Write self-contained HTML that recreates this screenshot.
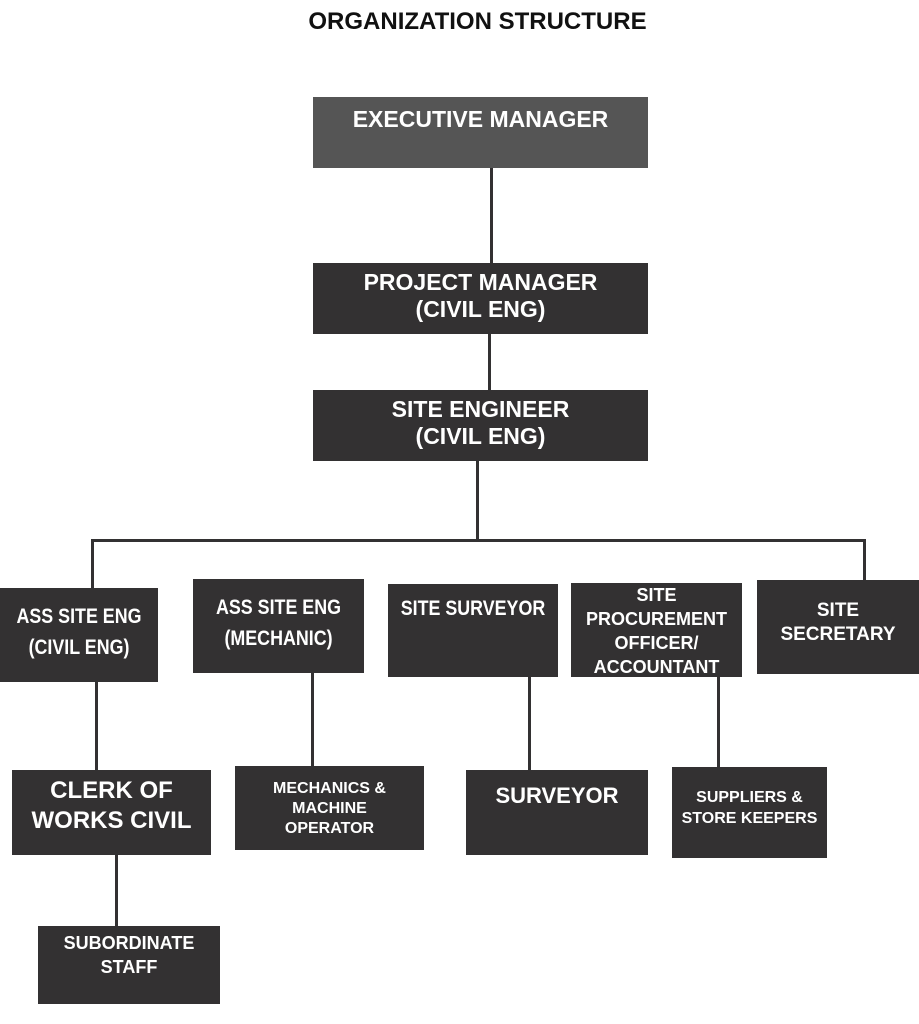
<!DOCTYPE html>
<html><head><meta charset="utf-8"><style>
body{margin:0;width:919px;height:1024px;background:#fff;position:relative;overflow:hidden;font-family:"Liberation Sans",Arial,sans-serif}
.b{position:absolute;background:#333132;color:#fff;font-weight:bold;text-align:center;box-sizing:border-box}
.l{position:absolute;background:#333132}
.t{position:absolute;left:0;right:0;white-space:nowrap}
.n{font-family:"Liberation Sans Narrow","Liberation Sans",sans-serif;transform:scaleX(.85)}
</style></head><body>
<div style="position:absolute;top:8px;left:0;width:955px;text-align:center;font-weight:bold;font-size:24px;color:#111">ORGANIZATION STRUCTURE</div>

<div class="l" style="left:490px;top:168px;width:3px;height:95px"></div>
<div class="l" style="left:488px;top:334px;width:3px;height:56px"></div>
<div class="l" style="left:476px;top:461px;width:3px;height:80px"></div>
<div class="l" style="left:91px;top:539px;width:775px;height:3px"></div>
<div class="l" style="left:91px;top:539px;width:3px;height:50px"></div>
<div class="l" style="left:863px;top:539px;width:3px;height:42px"></div>
<div class="l" style="left:95px;top:682px;width:3px;height:88px"></div>
<div class="l" style="left:311px;top:673px;width:3px;height:93px"></div>
<div class="l" style="left:528px;top:677px;width:3px;height:93px"></div>
<div class="l" style="left:717px;top:677px;width:3px;height:90px"></div>
<div class="l" style="left:115px;top:855px;width:3px;height:71px"></div>

<div class="b" style="left:313px;top:97px;width:335px;height:71px;background:#555"><div class="t" style="top:9px;font-size:23px">EXECUTIVE MANAGER</div></div>
<div class="b" style="left:313px;top:263px;width:335px;height:71px"><div class="t" style="top:6px;font-size:23px;line-height:27px">PROJECT MANAGER<br>(CIVIL ENG)</div></div>
<div class="b" style="left:313px;top:390px;width:335px;height:71px"><div class="t" style="top:6px;font-size:23px;line-height:27px">SITE ENGINEER<br>(CIVIL ENG)</div></div>

<div class="b" style="left:0;top:588px;width:158px;height:94px"><div class="t n" style="top:13px;font-size:21px;line-height:31px">ASS SITE ENG<br>(CIVIL ENG)</div></div>
<div class="b" style="left:193px;top:579px;width:171px;height:94px"><div class="t n" style="top:13px;font-size:21px;line-height:31px">ASS SITE ENG<br>(MECHANIC)</div></div>
<div class="b" style="left:388px;top:584px;width:170px;height:93px"><div class="t n" style="top:13px;font-size:21px">SITE SURVEYOR</div></div>
<div class="b" style="left:571px;top:583px;width:171px;height:94px"><div class="t" style="top:0px;font-size:18px;line-height:24px">SITE<br>PROCUREMENT<br>OFFICER/<br>ACCOUNTANT</div></div>
<div class="b" style="left:757px;top:580px;width:162px;height:94px"><div class="t" style="top:19px;font-size:19px;line-height:24px">SITE<br>SECRETARY</div></div>

<div class="b" style="left:12px;top:770px;width:199px;height:85px"><div class="t" style="top:6px;font-size:24px;line-height:30px">CLERK OF<br>WORKS CIVIL</div></div>
<div class="b" style="left:235px;top:766px;width:189px;height:84px"><div class="t" style="top:13px;font-size:16px;line-height:20px">MECHANICS &amp;<br>MACHINE<br>OPERATOR</div></div>
<div class="b" style="left:466px;top:770px;width:182px;height:85px"><div class="t" style="top:13px;font-size:22px">SURVEYOR</div></div>
<div class="b" style="left:672px;top:767px;width:155px;height:91px"><div class="t" style="top:20px;font-size:16px;line-height:21px">SUPPLIERS &amp;<br>STORE KEEPERS</div></div>
<div class="b" style="left:38px;top:926px;width:182px;height:78px"><div class="t" style="top:5px;font-size:18px;line-height:24px">SUBORDINATE<br>STAFF</div></div>
</body></html>
